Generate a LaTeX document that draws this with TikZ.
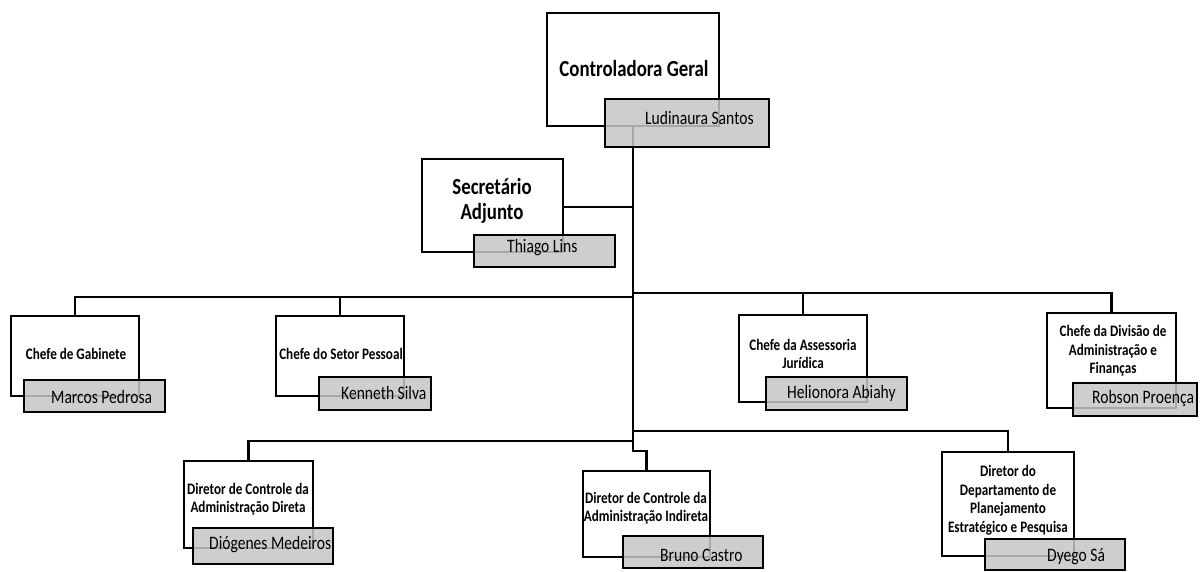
\documentclass[tikz,border=0pt]{standalone}
\usepackage{fontspec}
\setmainfont[FakeStretch=0.82]{Carlito}
\usetikzlibrary{fit}
\definecolor{boxgray}{RGB}{198,198,198}
\begin{document}
\begin{tikzpicture}[x=1pt,y=-1pt,
  wbox/.style={draw=black, line width=2pt, fill=white, inner sep=0pt, outer sep=0pt},
  gbox/.style={draw=black, line width=2pt, fill=boxgray, fill opacity=0.85, inner sep=0pt, outer sep=0pt},
  conn/.style={draw=black, line width=2.2pt},
  ttl/.style={font=\fontsize{16}{18.5}\selectfont\bfseries, align=center, inner sep=0pt},
  big/.style={font=\fontsize{23}{25}\selectfont\bfseries, align=center, inner sep=0pt},
  nm/.style={font=\fontsize{19}{20}\selectfont, inner sep=0pt, anchor=west}]
\useasboundingbox (0,0) rectangle (1203,571);

% white boxes (positions)
\node[wbox, fit={(547,13)(719,126)}] (cg) {};
\node[wbox, fit={(422,159)(563,252)}] (sa) {};
\node[wbox, fit={(11,316)(139,396)}] (gab) {};
\node[wbox, fit={(276,316)(404,396)}] (pes) {};
\node[wbox, fit={(739,315)(867,402)}] (jur) {};
\node[wbox, fit={(1047,313)(1176,408)}] (fin) {};
\node[wbox, fit={(184,461)(313,548)}] (dir) {};
\node[wbox, fit={(583,471)(710,557)}] (ind) {};
\node[wbox, fit={(942,452)(1074,556)}] (dep) {};

% junctions on the trunk
\coordinate (jSA) at (633,207);
\coordinate (jU) at (633,297);
\coordinate (jUr) at (633,293);
\coordinate (jLl) at (633,441);
\coordinate (jLr) at (633,431);
\coordinate (tb) at (633,451);

% connectors
\draw[conn] (cg.south) -- (tb) -| (ind.north);
\draw[conn] (sa.east |- jSA) -- (jSA);
\draw[conn] (jU) -| (gab.north);
\draw[conn] (jU) -| (pes.north);
\draw[conn] (jUr) -| (fin.north);
\draw[conn] (jUr) -| (jur.north);
\draw[conn] (jLl) -| (dir.north);
\draw[conn] (jLr) -| (dep.north);

% redraw white box outlines over connector ends
\foreach \n in {cg,sa,gab,pes,jur,fin,dir,ind,dep}{
  \draw[line width=2pt] (\n.north west) rectangle (\n.south east);
}

% gray name boxes
\node[gbox, fit={(605,99)(769,147)}] (ls) {};
\node[gbox, fit={(474,235)(615,267)}] (tl) {};
\node[gbox, fit={(24,380)(165,412)}] (mp) {};
\node[gbox, fit={(319,377)(431,410)}] (ks) {};
\node[gbox, fit={(766,377)(907,410)}] (ha) {};
\node[gbox, fit={(1073,383)(1197,416)}] (rp) {};
\node[gbox, fit={(193,528)(333,564)}] (dm) {};
\node[gbox, fit={(623,536)(763,568)}] (bc) {};
\node[gbox, fit={(985,539)(1125,570)}] (ds) {};

% titles
\node[big] (tcg) at (634,69) {Controladora Geral};
\node[big] (tsa) at (492,201) {Secretário\\Adjunto};
\node[ttl] (tgab) at (76,354) {Chefe de Gabinete};
\node[ttl] (tpes) at (341,354) {Chefe do Setor Pessoal};
\node[ttl] (tjur) at (803,354) {Chefe da Assessoria\\Jurídica};
\node[ttl] (tfin) at (1113,351) {Chefe da Divisão de\\Administração e\\Finanças};
\node[ttl] (tdir) at (248,499) {Diretor de Controle da\\Administração Direta};
\node[ttl] (tind) at (646,508) {Diretor de Controle da\\Administração Indireta};
\node[ttl] (tdep) at (1008,500) {Diretor do\\Departamento de\\Planejamento\\Estratégico e Pesquisa};

% names
\node[nm] (nls) at (645,118) {Ludinaura Santos};
\node[nm] (ntl) at (507,248) {Thiago Lins};
\node[nm] (nmp) at (51,397) {Marcos Pedrosa};
\node[nm] (nks) at (341,393) {Kenneth Silva};
\node[nm] (nha) at (787,393) {Helionora Abiahy};
\node[nm] (nrp) at (1092,398) {Robson Proença};
\node[nm] (ndm) at (209,545) {Diógenes Medeiros};
\node[nm] (nbc) at (660,555) {Bruno Castro};
\node[nm] (nds) at (1047,557) {Dyego Sá};
\end{tikzpicture}
\end{document}
